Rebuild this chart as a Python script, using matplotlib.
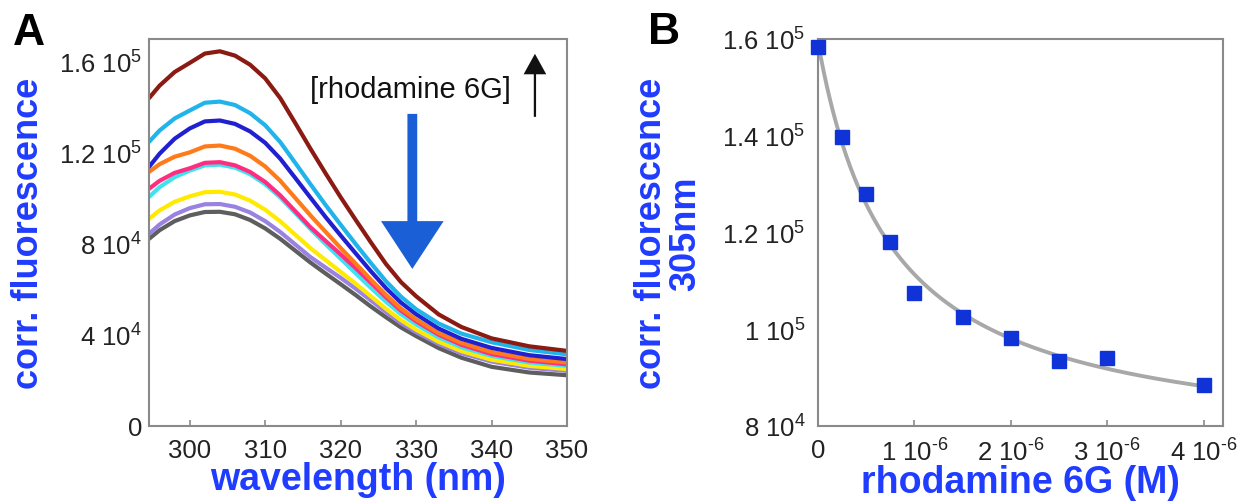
import numpy as np
import matplotlib
matplotlib.use('Agg')
import matplotlib.pyplot as plt

plt.rcParams['font.family'] = ['Liberation Sans', 'DejaVu Sans']
plt.rcParams['mathtext.fontset'] = 'custom'
plt.rcParams['mathtext.rm'] = 'Liberation Sans'
plt.rcParams['mathtext.it'] = 'Liberation Sans:italic'
plt.rcParams['mathtext.bf'] = 'Liberation Sans:bold'

# ---------------- Panel A data (values in units of 1e3) ----------------
wavelength = [294.6, 296, 298, 300, 302, 304, 306, 308, 310, 312, 314, 316,
              318, 320, 322, 324, 326, 328, 330, 333, 336, 340, 345, 350]
s_gray   = [82.2, 86.0, 90.0, 92.5, 94.0, 94.1, 93.0, 90.5, 86.8, 82.2, 77.0, 71.8,
            67.0, 62.3, 57.5, 52.5, 47.8, 43.3, 39.5, 34.2, 30.0, 26.0, 23.5, 22.3]
s_purple = [84.4, 88.5, 92.9, 95.7, 97.4, 97.5, 96.3, 93.8, 90.0, 85.2, 79.7, 74.2,
            69.6, 65.1, 60.3, 55.2, 50.1, 45.2, 41.2, 36.0, 32.0, 28.3, 25.6, 24.2]
s_yellow = [91.0, 94.7, 98.5, 100.9, 102.7, 102.9, 101.7, 99.0, 95.0, 89.9, 84.0, 78.1,
            72.9, 67.7, 62.5, 57.0, 51.5, 46.5, 42.3, 37.0, 32.9, 29.1, 26.4, 25.0]
s_cyan   = [100.6, 104.9, 109.3, 112.2, 114.5, 114.8, 113.5, 110.6, 106.2, 100.4, 93.5, 86.5,
            79.9, 73.5, 67.1, 60.7, 54.6, 49.1, 44.6, 38.9, 34.6, 30.8, 27.9, 26.4]
s_pink   = [104.2, 107.7, 111.2, 113.2, 115.6, 115.9, 114.5, 111.6, 107.2, 101.3, 94.3, 87.3,
            81.3, 75.4, 69.3, 63.0, 56.6, 50.7, 46.0, 40.1, 35.7, 31.6, 28.7, 27.1]
s_orange = [111.6, 115.0, 118.3, 120.2, 122.8, 123.2, 121.8, 118.7, 114.0, 107.7, 100.1, 92.5,
            85.3, 78.2, 71.3, 64.3, 57.6, 51.6, 46.8, 40.8, 36.5, 32.5, 29.5, 27.9]
s_blue   = [113.8, 119.6, 126.2, 130.7, 133.8, 134.2, 132.7, 129.4, 124.4, 117.4, 108.9, 100.3,
            91.8, 83.7, 75.8, 68.0, 60.6, 54.2, 49.1, 42.8, 38.3, 34.3, 31.1, 29.4]
s_lblue  = [124.8, 129.8, 135.1, 138.6, 142.0, 142.5, 141.0, 137.4, 132.1, 124.7, 115.5, 106.2,
            97.1, 88.4, 79.9, 71.6, 63.6, 56.8, 51.3, 45.0, 40.6, 36.8, 33.4, 31.5]
s_brown  = [144.0, 149.5, 155.5, 159.5, 163.6, 164.6, 162.7, 158.7, 152.7, 144.0, 133.0, 121.8,
            111.0, 100.5, 90.5, 80.7, 71.2, 63.2, 57.0, 49.0, 43.5, 38.5, 35.0, 33.0]

spectra = [s_gray, s_purple, s_yellow, s_cyan, s_pink, s_orange, s_blue, s_lblue, s_brown]
spectra_colors = ['#5e5e5e', '#9a82e0', '#ffea00', '#3fe3f0', '#ff2d80',
                  '#ff7a1a', '#2020d0', '#20b4ea', '#8a1a12']

a_xticks = [300, 310, 320, 330, 340, 350]
a_yticks = [0, 4e4, 8e4, 1.2e5, 1.6e5]
a_ylabels = [r'$\mathregular{0}$', r'$\mathregular{4\ 10^{4}}$', r'$\mathregular{8\ 10^{4}}$',
             r'$\mathregular{1.2\ 10^{5}}$', r'$\mathregular{1.6\ 10^{5}}$']

# ---------------- Panel B data ----------------
conc = [0, 0.25e-6, 0.5e-6, 0.75e-6, 1.0e-6, 1.5e-6, 2.0e-6, 2.5e-6, 3.0e-6, 4.0e-6]
fluor305 = [158.4e3, 139.8e3, 128.0e3, 118.0e3, 107.4e3, 102.5e3, 98.1e3, 93.5e3, 94.0e3, 88.5e3]

b_xticks = [0, 1e-6, 2e-6, 3e-6, 4e-6]
b_xlabels = [r'$\mathregular{0}$', r'$\mathregular{1\ 10^{\text{-}6}}$', r'$\mathregular{2\ 10^{\text{-}6}}$',
             r'$\mathregular{3\ 10^{\text{-}6}}$', r'$\mathregular{4\ 10^{\text{-}6}}$']
b_yticks = [8e4, 1e5, 1.2e5, 1.4e5, 1.6e5]
b_ylabels = [r'$\mathregular{8\ 10^{4}}$', r'$\mathregular{1\ 10^{5}}$', r'$\mathregular{1.2\ 10^{5}}$',
             r'$\mathregular{1.4\ 10^{5}}$', r'$\mathregular{1.6\ 10^{5}}$']

LABEL_BLUE = '#1f3cff'
SPINE = '#8a8a8a'
TICKCOL = '#222222'

fig = plt.figure(figsize=(12.39, 5.02), dpi=100)
axA = fig.add_axes([149/1239, 75/502, 418/1239, 387/502])
axB = fig.add_axes([818/1239, 75/502, 405/1239, 387/502])

def style(ax, ypad, xpad):
    for s in ax.spines.values():
        s.set_color(SPINE)
        s.set_linewidth(1.5)
    ax.tick_params(axis='x', direction='in', length=4, width=1.2, color=SPINE,
                   labelsize=18.5, labelcolor=TICKCOL, pad=xpad)
    ax.tick_params(axis='y', direction='in', length=0, labelsize=18.5,
                   labelcolor=TICKCOL, pad=ypad)

# ---- Panel A ----
wl = np.array(wavelength)
for ser, c in zip(spectra, spectra_colors):
    axA.plot(wl, np.array(ser) * 1e3, color=c, lw=3.0,
             solid_capstyle='round', solid_joinstyle='round')
axA.set_xlim(294.6, 350)
axA.set_ylim(0, 1.70e5)
axA.set_xticks(a_xticks)
axA.set_xticklabels([str(t) for t in a_xticks])
axA.set_yticks(a_yticks)
axA.set_yticklabels(a_ylabels)
style(axA, 5, 9)
axA.set_xlabel('wavelength (nm)', color=LABEL_BLUE, fontsize=27, fontweight='bold', labelpad=-1)
axA.set_ylabel('corr. fluorescence', color=LABEL_BLUE, fontsize=26, fontweight='bold', labelpad=9)

axA.text(329.3, 1.481e5, '[rhodamine 6G]', fontsize=21, color='#111111', ha='center', va='center')
axA.arrow(329.5, 1.371e5, 0, -(1.371e5 - 6.9e4), width=1.3, head_width=8.3,
          head_length=2.1e4, length_includes_head=True, color='#1a5fd6', lw=0)
axA.arrow(345.75, 1.358e5, 0, 1.635e5 - 1.358e5, width=0.3, head_width=3.0,
          head_length=0.9e4, length_includes_head=True, color='#111111', lw=0)

# ---- Panel B ----
x = np.array(conc)
y = np.array(fluor305)
best = None
for K in np.logspace(-8, -5, 3000):
    M = np.column_stack([np.ones_like(x), 1.0 / (1.0 + x / K)])
    coef, *_ = np.linalg.lstsq(M, y, rcond=None)
    r = np.sum((M @ coef - y) ** 2)
    if best is None or r < best[0]:
        best = (r, K, coef)
_, Kb, cb = best
xf = np.linspace(0, 4e-6, 400)
yf = cb[0] + cb[1] / (1.0 + xf / Kb)
axB.plot(xf, yf, color='#a8a8a8', lw=2.8, zorder=2)
axB.plot(x, y, linestyle='none', marker='s', markersize=10, color='#1033d8', zorder=3,
         clip_on=False)
axB.set_xlim(0, 4.2e-6)
axB.set_ylim(8e4, 1.6e5)
axB.set_xticks(b_xticks)
axB.set_xticklabels(b_xlabels)
axB.set_yticks(b_yticks)
axB.set_yticklabels(b_ylabels)
style(axB, 9, 9)
axB.set_xlabel('rhodamine 6G (M)', color=LABEL_BLUE, fontsize=27, fontweight='bold', labelpad=-1)
axB.set_ylabel('corr. fluorescence\n305nm', color=LABEL_BLUE, fontsize=26, fontweight='bold',
               labelpad=14, linespacing=0.95)

fig.text(29/1239, 1 - 34/502, 'A', fontsize=32, fontweight='bold', ha='center', va='center')
fig.text(664/1239, 1 - 33/502, 'B', fontsize=32, fontweight='bold', ha='center', va='center')

fig.savefig('out.png', dpi=100)
